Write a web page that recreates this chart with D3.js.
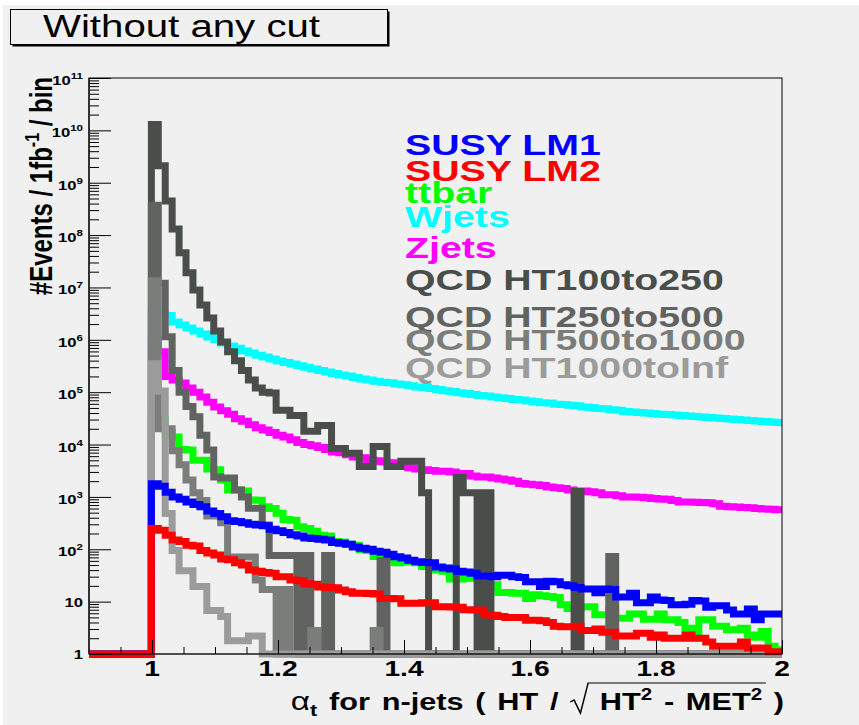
<!DOCTYPE html>
<html><head><meta charset="utf-8">
<script src="https://cdn.jsdelivr.net/npm/d3@7/dist/d3.min.js"></script>
<style>
html,body{margin:0;padding:0;background:#ffffff;}
svg{display:block;}
text{font-family:"Liberation Sans",Arial,Helvetica,sans-serif;}
</style></head><body>
<svg id="c" width="859" height="725"></svg>
<script>
// ---------------- data ----------------
const xMin = 0.9, xMax = 2.0, nBins = 100;
const xTickValues = [1, 1.2, 1.4, 1.6, 1.8, 2];
const xTickLabels = ["1", "1.2", "1.4", "1.6", "1.8", "2"];
const yDecades = [0,1,2,3,4,5,6,7,8,9,10,11];

const lm1 = [0,0,0,0,0,0,0,0,0,1780,
 1600,1230,1000,900,800,720,650,540,480,420,
 350,340,320,300,290,280,240,225,210,190,
 180,165,160,155,150,135,130,125,110,105,
 100,92,88,80,72,68,62,58,56,55,
 46,44,42,38,37,35,31,31,30,32,
 32,30,29,24,24,19.5,24.5,24,21,20,
 18.6,17.4,17.4,14.8,17.4,17,12.3,12.3,14.5,9.5,
 9.5,12.3,10.7,10.5,8.7,8.7,8.9,10.5,10.3,7.8,
 8.3,8.3,6.9,5.8,5.8,7.2,4.5,5.8,5.8,5.8];

const lm2 = [0,0,0,0,0,0,0,0,0,250,
 230,185,150,140,120,115,95,85,78,65,
 63,55,50,40,38,36,35,30,30,26,
 25,22,21.5,19,18.6,18.5,16.6,15.5,14.5,14.5,
 14.3,14,11.5,11.5,11.3,9.3,9.3,9.3,9.5,9.5,
 8,8,7.9,7.8,7,6.9,6.9,5.6,5.5,5.2,
 5,5,5,4.4,4.4,4.3,4,3.4,3.3,3.3,
 3.4,2.8,2.8,3.0,2.6,2.6,2.2,2.2,2.2,2.5,
 2.5,2.1,2.3,2.0,2.0,2.0,2.3,2.0,2.0,1.7,
 1.4,1.4,1.4,1.4,1.7,1.3,1.3,1.3,1.1,1.1];

const ttbar = [0,0,0,0,0,0,0,0,0,3e4,
 3e4,1.6e4,1.4e4,8e3,7.9e3,5e3,5e3,3.4e3,3.3e3,2.1e3,
 1350,1350,1300,870,860,650,600,490,370,360,
 270,250,220,186,180,140,138,125,120,98,
 95,73,72,70,55,58,60,55,47,45,
 40,38,27,27,28,28,27,19,21,15,
 15,14.5,14.5,11.5,13.5,13,12.5,12,8.7,7.4,
 7.4,8,8,5.6,5.6,6.9,4.8,4.8,5.8,5.8,
 4.6,4.6,5.8,4.5,4.5,4.0,3.1,2.5,4.5,4.5,
 3.4,3.4,2.9,2.9,3.1,2.3,2.1,2.7,1.4,1.2];

const wjets = [0,0,0,0,0,0,0,0,0,3.5e6,
 3.2e6,2.9e6,2.19e6,1.91e6,1.69e6,1.48e6,1.29e6,1.13e6,1.0e6,8.7e5,
 7.6e5,6.9e5,6.1e5,5.6e5,5.1e5,4.7e5,4.3e5,3.95e5,3.7e5,3.45e5,
 3.2e5,3.0e5,2.77e5,2.59e5,2.44e5,2.28e5,2.13e5,2.04e5,1.91e5,1.78e5,
 1.70e5,1.62e5,1.55e5,1.51e5,1.44e5,1.38e5,1.32e5,1.26e5,1.23e5,1.17e5,
 1.12e5,1.07e5,1.03e5,9.8e4,9.4e4,9.0e4,8.65e4,8.5e4,8.1e4,7.8e4,
 7.6e4,7.25e4,7.1e4,6.8e4,6.6e4,6.3e4,6.2e4,5.9e4,5.8e4,5.6e4,
 5.5e4,5.2e4,5.1e4,4.9e4,4.8e4,4.6e4,4.5e4,4.3e4,4.2e4,4.1e4,
 4.0e4,3.9e4,3.8e4,3.75e4,3.65e4,3.6e4,3.5e4,3.45e4,3.35e4,3.3e4,
 3.2e4,3.15e4,3.08e4,3.0e4,2.95e4,2.88e4,2.82e4,2.75e4,2.7e4,2.64e4];

const zjets = [0,0,0,0,0,0,0,0,0,1.0e6,
 5.9e5,2.0e5,1.7e5,1.5e5,1.2e5,1.0e5,8.1e4,6.4e4,5.2e4,4.4e4,
 3.8e4,3.1e4,2.8e4,2.4e4,2.1e4,1.9e4,1.7e4,1.5e4,1.4e4,1.23e4,
 1.1e4,1.0e4,9.5e3,8.8e3,8.0e3,7.2e3,7.0e3,6.4e3,5.8e3,5.6e3,
 5.2e3,4.9e3,4.7e3,4.5e3,4.2e3,3.8e3,3.6e3,3.4e3,3.3e3,3.2e3,
 3.1e3,3.1e3,3.0e3,2.8e3,2.8e3,2.5e3,2.4e3,2.4e3,2.3e3,2.2e3,
 2.1e3,2.0e3,1.8e3,1.75e3,1.7e3,1.65e3,1.55e3,1.5e3,1.45e3,1.35e3,
 1.3e3,1.3e3,1.25e3,1.2e3,1.1e3,1.1e3,1.05e3,1.0e3,1.0e3,980,
 960,930,910,900,850,800,800,790,780,770,
 740,660,650,640,630,620,600,590,580,570];

const qcd100 = [0,0,0,0,0,0,0,0,0,1.3e10,
 2.1e9,4.5e8,1.3e8,4.6e7,1.9e7,8.9e6,4.6e6,2.6e6,1.48e6,9.1e5,
 5.9e5,4.0e5,2.6e5,1.7e5,1.2e5,1.0e5,9.6e4,4.5e4,4.5e4,3.6e4,
 3.6e4,1.8e4,1.8e4,2.3e4,2.3e4,8.4e3,8.4e3,6.8e3,6.8e3,3.8e3,
 3.8e3,9.2e3,9.2e3,3.8e3,3.8e3,4.8e3,4.8e3,4.8e3,1.2e3,0,
 0,0,0,2.35e3,1.2e3,1.2e3,0,1.2e3,0,0,
 0,0,0,0,0,0,0,0,0,0,
 1.27e3,0,0,0,0,0,0,0,0,0,
 0,0,0,0,0,0,0,0,0,0,
 0,0,0,0,0,0,0,0,0,0];

const qcd250 = [0,0,0,0,0,0,0,0,0,3.7e8,
 1.2e7,1.15e6,2.6e5,1.0e5,5.3e4,3.4e4,1.5e4,7.9e3,2.4e3,2.3e3,
 2.3e3,1.35e3,1.0e3,610,610,290,76,76,76,76,
 0,76,0,0,76,0,0,0,0,0,
 0,0,61,0,0,0,0,0,0,0,
 0,0,0,0,0,0,0,0,0,0,
 0,0,0,0,0,0,0,0,0,0,
 0,0,0,0,0,73,0,0,0,0,
 0,0,0,0,0,0,0,0,0,0,
 0,0,0,0,0,0,0,0,0,0];

const qcd500 = [0,0,0,0,0,0,0,0,0,1.35e7,
 2e4,2e4,7.6e3,4.1e3,2.1e3,1.2e3,850,430,430,320,
 71,71,71,71,26,17,17,0,17,0,
 0,0,2.8,0,0,0,0,0,0,0,
 0,2.8,0,0,0,0,0,0,0,0,
 0,0,0,0,0,0,0,0,0,0,
 0,0,0,0,0,0,0,0,0,0,
 0,0,0,0,0,0,0,0,0,0,
 0,0,0,0,0,0,0,0,0,0,
 0,0,0,0,0,0,0,0,0,0];

const qcd1000 = [0,0,0,0,0,0,0,0,0,3.5e5,
 1.05e5,480,95,39,39,19.5,19.5,6.8,6.8,5.2,
 1.8,1.8,1.8,2.2,2.2,0,0,0,0,0,
 0,0,0,0,0,0,0,0,0,0,
 0,0,0,0,0,0,0,0,0,0,
 0,0,0,0,0,0,0,0,0,0,
 0,0,0,0,0,0,0,0,0,0,
 0,0,0,0,0,0,0,0,0,0,
 0,0,0,0,0,0,0,0,0,0,
 0,0,0,0,0,0,0,0,0,0];

const legendLabels = ["SUSY LM1","SUSY LM2","ttbar","Wjets","Zjets",
  "QCD HT100to250","QCD HT250to500","QCD HT500to1000","QCD HT1000toInf"];
const legendColors = ["#0000ff","#ff0000","#00ff00","#00ffff","#ff00ff",
  "#4a4e4a","#606360","#7b7d7b","#9b9b9b"];

// ---------------- drawing ----------------
const W = 859, H = 725, SX = 1.28;
const svg = d3.select("#c");
svg.append("rect").attr("x",3).attr("y",5).attr("width",W-3).attr("height",H-5).attr("fill","#f0f0f0");

const x = d3.scaleLinear().domain([xMin, xMax]).range([89, 782]);
const y = d3.scaleLog().domain([1, 1e11]).range([654, 78]);
const yv = v => (v > 1 ? y(v) : y(1));
const edges = d3.range(nBins + 1).map(i => xMin + i * (xMax - xMin) / nBins);

const line = d3.line().x(d => x(d[0])).y(d => yv(d[1]));
function stepPts(vals){
  const pts = [];
  vals.forEach((v,i) => { if (v === null) return; pts.push([edges[i], v], [edges[i+1], v]); });
  return pts;
}
const drawOrder = [
  {vals: ttbar, color: legendColors[2]},
  {vals: wjets, color: legendColors[3]},
  {vals: zjets, color: legendColors[4]},
  {vals: qcd100, color: legendColors[5]},
  {vals: qcd250, color: legendColors[6]},
  {vals: qcd500, color: legendColors[7]},
  {vals: qcd1000, color: legendColors[8]},
  {vals: lm1, color: legendColors[0]},
  {vals: lm2, color: legendColors[1]}
];
const gLines = svg.append("g");
drawOrder.forEach(s => {
  gLines.append("path").attr("d", line(stepPts(s.vals)))
    .attr("fill","none").attr("stroke", s.color).attr("stroke-width", 7)
    .attr("stroke-linejoin","miter").attr("stroke-linecap","butt");
});

// frame
svg.append("rect").attr("x",89).attr("y",78).attr("width",782-89).attr("height",654-78)
  .attr("fill","none").attr("stroke","#000").attr("stroke-width",1);

// y axis ticks
const yMajor = yDecades.map(k => Math.pow(10,k));
const yMinor = [];
yDecades.slice(0,-1).forEach(k => { for (let m=2;m<=9;m++) yMinor.push(m*Math.pow(10,k)); });
const gy = svg.append("g").attr("transform","translate(89,0)");
gy.call(d3.axisLeft(y).tickValues(yMajor).tickSize(-22).tickFormat(""));
gy.append("g").call(d3.axisLeft(y).tickValues(yMinor).tickSize(-10).tickFormat(""));
gy.selectAll(".domain").remove();
gy.selectAll("line").attr("stroke","#000").attr("stroke-width",1);
svg.append("line").attr("x1",89).attr("x2",89).attr("y1",78).attr("y2",654).attr("stroke","#222").attr("stroke-width",1.6);

// x axis ticks
const xMinorT = d3.range(19,40).map(i => i*0.05).filter(v => v < 2.0001 && xTickValues.indexOf(Math.round(v*100)/100) < 0);
const gx = svg.append("g").attr("transform","translate(0,654)");
gx.call(d3.axisBottom(x).tickValues(xTickValues).tickSize(-14).tickFormat(""));
gx.append("g").call(d3.axisBottom(x).tickValues(xMinorT).tickSize(-7).tickFormat(""));
gx.selectAll(".domain").remove();
gx.selectAll("line").attr("stroke","#000").attr("stroke-width",1);
svg.append("line").attr("x1",89).attr("x2",782).attr("y1",654).attr("y2",654).attr("stroke","#222").attr("stroke-width",1.2);

function addText(x0, y0, size, weight, color, anchor, extra, sx){
  return svg.append("text")
    .attr("transform", `translate(${x0},${y0}) scale(${sx||SX},1)` + (extra||""))
    .attr("font-size", size).attr("font-weight", weight).attr("fill", color)
    .attr("text-anchor", anchor);
}

// y tick labels
yDecades.forEach(k => {
  const ty = y(Math.pow(10,k));
  if (k === 0) { addText(83, ty+5, 13, "bold", "#000", "end").text("1"); return; }
  if (k === 1) { addText(83, ty+5, 13, "bold", "#000", "end").text("10"); return; }
  const t = addText(83, ty+7, 13, "bold", "#000", "end");
  t.append("tspan").text("10");
  t.append("tspan").attr("font-size", 9).attr("dy", -6).text(String(k));
});

// x tick labels
xTickValues.forEach((v,i) => {
  addText(x(v), 676, 22, "bold", "#000", "middle").text(xTickLabels[i]);
});

// y title
{
  const t = addText(52, 77, 24, "bold", "#000", "end", " rotate(-90)");
  t.append("tspan").text("#Events / 1fb");
  t.append("tspan").attr("font-size", 16).attr("dy", -10).text("-1");
  t.append("tspan").attr("dy", 10).text(" / bin");
}

// x title built from pieces
{
  const g = svg.append("g");
  const inner = g.append("g").attr("transform", `scale(${SX},1)`);
  let cx = 0;
  function piece(str, size, weight, dy, family){
    const t = inner.append("text").attr("x", cx).attr("y", dy||0).attr("font-size", size)
      .attr("font-weight", weight).attr("word-spacing", 2.5).attr("xml:space","preserve")
      .style("white-space","pre").text(str);
    if (family) t.attr("font-family", family);
    const w = t.node().getComputedTextLength();
    cx += w; return t;
  }
  piece("\u03b1", 26, "normal", 0, "DejaVu Serif, serif");
  piece("t", 17, "bold", 6);
  piece(" for n-jets ( HT / ", 24, "bold", 0);
  const rx = cx;
  cx += 14;
  piece(" HT", 24, "bold", 0);
  piece("2", 16, "bold", -10);
  piece(" - MET", 24, "bold", 0);
  piece("2", 16, "bold", -10);
  const radEnd = cx + 3;
  piece(" )", 24, "bold", 0);
  inner.append("path").attr("d", `M${rx},-8 L${rx+3},-10 L${rx+8},3 L${rx+14},-27 L${radEnd},-27`)
    .attr("fill","none").attr("stroke","#000").attr("stroke-width",1.2);
  const total = cx * SX;
  g.attr("transform", `translate(${784 - total},710)`);
}

// legend
const legendBaselines = [155,181,203,227,258,290,327,350,378];
legendLabels.forEach((lab,i) => {
  addText(405, legendBaselines[i], 30, "bold", legendColors[i], "start", "", 1.31).text(lab);
});

// title box
svg.append("rect").attr("x",12.5).attr("y",11.5).attr("width",377).attr("height",35).attr("fill","#000");
svg.append("rect").attr("x",10.5).attr("y",9.5).attr("width",377).attr("height",35).attr("fill","#f0f0f0").attr("stroke","#000").attr("stroke-width",1);
svg.append("text").attr("x",43).attr("y",37).attr("font-size",31).attr("font-family","DejaVu Sans, sans-serif")
  .attr("textLength",277).attr("lengthAdjust","spacingAndGlyphs").attr("fill","#000").text("Without any cut");
</script>
</body></html>
